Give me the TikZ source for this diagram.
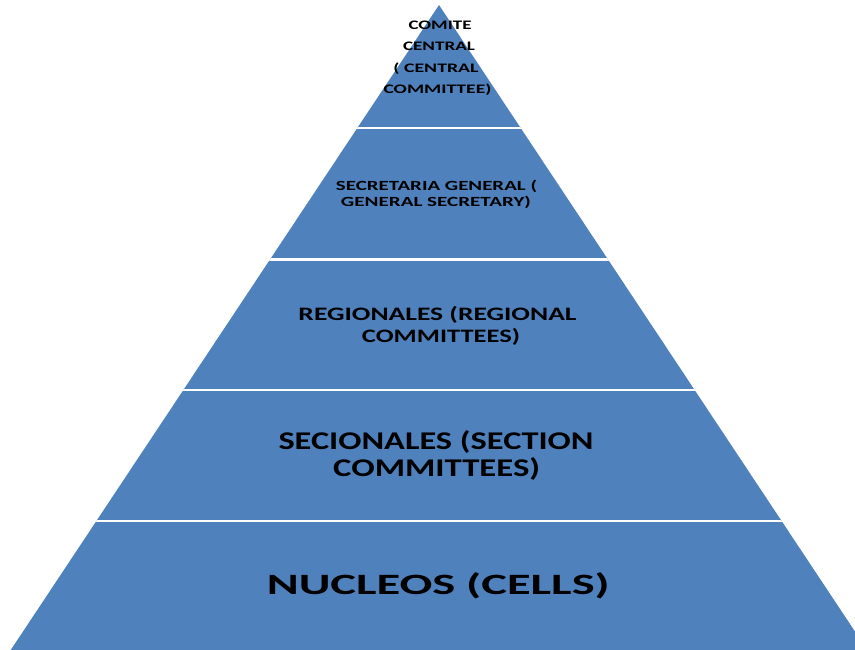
\documentclass[tikz,border=0pt]{standalone}
\usepackage{fontspec}
\setmainfont{Carlito}
\usepackage{graphicx}
\definecolor{pyr}{HTML}{4F81BD}
\newcommand{\pyrline}[3]{\resizebox{#1pt}{\height}{\fontsize{#2pt}{#2pt}\selectfont\bfseries #3}}
\begin{document}
\begin{tikzpicture}[x=1pt,y=-1pt,
  lbl/.style={anchor=base,inner sep=0pt,text=black},
  sep/.style={white,line width=2.4pt}]
\useasboundingbox (0,0) rectangle (855,650);
\begin{scope}
  \clip (0,0) rectangle (855,650);
  \fill[pyr] (439,5) -- (873.9,660) -- (4.1,660) -- cycle;
  \clip (439,5) -- (873.9,660) -- (4.1,660) -- cycle;
  \foreach \yy in {128.3,259.3,390,520.7}
    \draw[sep] (0,\yy) -- (855,\yy);
\end{scope}
% top
\node[lbl] (t1) at (440,30)   {\pyrline{63}{13}{COMITE}};
\node[lbl] (t2) at (439,50.7) {\pyrline{72}{13}{CENTRAL}};
\node[lbl] (t3) at (436,72.3) {\pyrline{85}{13}{( CENTRAL}};
\node[lbl] (t4) at (437.5,93.3) {\pyrline{108}{13}{COMMITTEE)}};
% secretaria
\node[lbl] (s1) at (436.5,190.7) {\pyrline{201}{14}{SECRETARIA GENERAL (}};
\node[lbl] (s2) at (436,206.7)   {\pyrline{190}{14}{GENERAL SECRETARY)}};
% regionales
\node[lbl] (r1) at (437.5,320)  {\pyrline{278}{19}{REGIONALES (REGIONAL}};
\node[lbl] (r2) at (441,342.3)  {\pyrline{158}{19}{COMMITTEES)}};
% secionales
\node[lbl] (c1) at (436,449.3)  {\pyrline{315}{25.5}{SECIONALES (SECTION}};
\node[lbl] (c2) at (436.7,476.7) {\pyrline{207}{25.5}{COMMITTEES)}};
% nucleos
\node[lbl] (n1) at (438.3,594) {\pyrline{343}{29.5}{NUCLEOS (CELLS)}};
\end{tikzpicture}
\end{document}
